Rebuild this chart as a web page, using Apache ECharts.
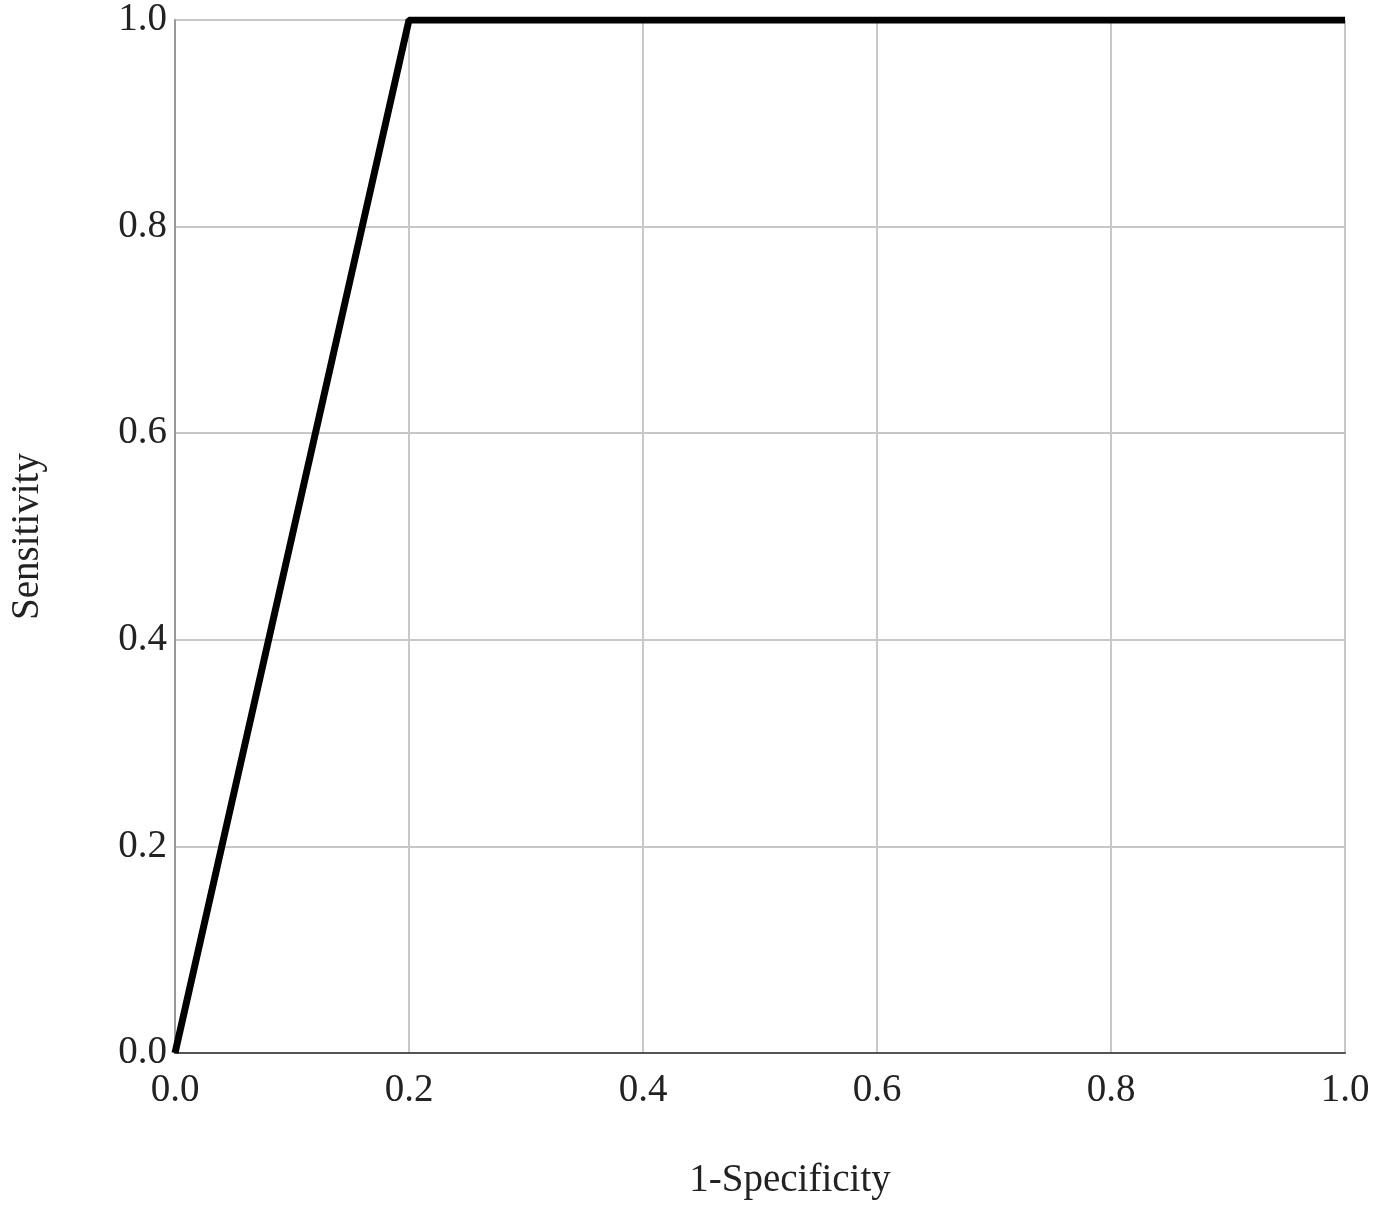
<!DOCTYPE html>
<html>
<head>
<meta charset="utf-8">
<script src="https://cdn.jsdelivr.net/npm/echarts@6/dist/echarts.min.js"></script>
<style>html,body{margin:0;padding:0;background:#fff}#chart{width:1383px;height:1215px}</style>
</head>
<body>
<div id="chart"></div>
<script>
// ROC curve points
const fpr = [0, 0.2, 1.0];
const tpr = [0, 1.0, 1.0];
const tickLabels = ['0.0', '0.2', '0.4', '0.6', '0.8', '1.0'];

const chart = echarts.init(document.getElementById('chart'));
const font = '"Liberation Serif", "DejaVu Serif", serif';
const fmt = v => tickLabels[Math.round(v * 5)];

chart.setOption({
	animation: false,
	textStyle: { fontFamily: font },
	grid: { left: 170, right: 38, top: 20, bottom: 162 },
	xAxis: {
		type: 'value', min: 0, max: 1, interval: 0.2,
		name: '1-Specificity', nameLocation: 'middle', nameGap: 108,
		nameTextStyle: { fontSize: 39, color: '#222', fontFamily: font, padding: [0, 0, 0, 60] },
		axisLine: { lineStyle: { color: '#555', width: 2 } },
		axisTick: { show: false },
		axisLabel: { formatter: fmt, fontSize: 39, color: '#222', margin: 18, fontFamily: font },
		splitLine: { lineStyle: { color: '#c8c8c8', width: 2 } }
	},
	yAxis: {
		type: 'value', min: 0, max: 1, interval: 0.2,
		name: 'Sensitivity', nameLocation: 'middle', nameGap: 128,
		nameTextStyle: { fontSize: 39, color: '#222', fontFamily: font },
		axisLine: { show: true, lineStyle: { color: '#999', width: 2 } },
		axisTick: { show: false },
		axisLabel: { formatter: fmt, fontSize: 39, color: '#222', margin: 8, fontFamily: font },
		splitLine: { lineStyle: { color: '#c8c8c8', width: 2 } }
	},
	series: [{
		type: 'line',
		data: fpr.map((x, i) => [x, tpr[i]]),
		showSymbol: false,
		lineStyle: { color: '#000', width: 7 }
	}]
});
</script>
</body>
</html>
